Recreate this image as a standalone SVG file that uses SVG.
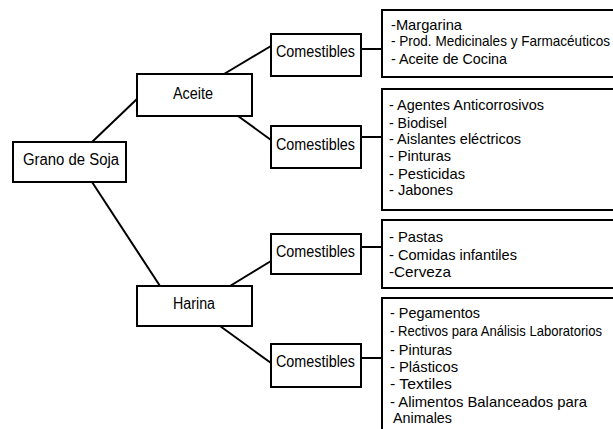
<svg xmlns="http://www.w3.org/2000/svg" width="613" height="429" viewBox="0 0 613 429">
<style>
.box{fill:#fff;stroke:#000;stroke-width:2}
.ln{stroke:#000;stroke-width:2;fill:none}
text{font-family:"Liberation Sans",Arial,sans-serif;fill:#000}
.n{font-size:16px}
.l{font-size:15px}
</style>
<rect width="613" height="429" fill="#fff"/>
<g id="connectors">
<line class="ln" x1="92" y1="142" x2="137" y2="99"/>
<line class="ln" x1="92" y1="182" x2="160" y2="286"/>
<line class="ln" x1="224" y1="74" x2="271" y2="46"/>
<line class="ln" x1="238" y1="116" x2="271" y2="140"/>
<line class="ln" x1="230" y1="286" x2="271" y2="261"/>
<line class="ln" x1="220" y1="326" x2="271" y2="363"/>
<line class="ln" x1="361" y1="49" x2="382" y2="49"/>
<line class="ln" x1="361" y1="137" x2="382" y2="137"/>
<line class="ln" x1="361" y1="247" x2="382" y2="247"/>
<line class="ln" x1="361" y1="358" x2="382" y2="358"/>
</g>
<g id="grano">
<rect class="box" x="13" y="142" width="113" height="40"/>
<text class="n" x="23" y="165" textLength="96" lengthAdjust="spacingAndGlyphs">Grano de Soja</text>
</g>
<g id="aceite">
<rect class="box" x="137" y="74" width="115" height="42"/>
<text class="n" x="173" y="99" textLength="40" lengthAdjust="spacingAndGlyphs">Aceite</text>
</g>
<g id="harina">
<rect class="box" x="137" y="286" width="115" height="40"/>
<text class="n" x="173" y="309" textLength="42" lengthAdjust="spacingAndGlyphs">Harina</text>
</g>
<g id="com1">
<rect class="box" x="271" y="34" width="90" height="42"/>
<text class="n" x="276" y="57" textLength="79" lengthAdjust="spacingAndGlyphs">Comestibles</text>
</g>
<g id="com2">
<rect class="box" x="271" y="126" width="90" height="42"/>
<text class="n" x="276" y="150" textLength="79" lengthAdjust="spacingAndGlyphs">Comestibles</text>
</g>
<g id="com3">
<rect class="box" x="271" y="234" width="90" height="40"/>
<text class="n" x="276" y="257" textLength="79" lengthAdjust="spacingAndGlyphs">Comestibles</text>
</g>
<g id="com4">
<rect class="box" x="271" y="344" width="90" height="43"/>
<text class="n" x="276" y="367" textLength="79" lengthAdjust="spacingAndGlyphs">Comestibles</text>
</g>
<g id="list1">
<rect class="box" x="382" y="10" width="240" height="67"/>
<text class="l" x="391" y="30" textLength="71" lengthAdjust="spacingAndGlyphs">-Margarina</text>
<text class="l" x="391" y="46" textLength="219" lengthAdjust="spacingAndGlyphs">-  Prod.  Medicinales  y  Farmacéuticos</text>
<text class="l" x="391" y="64" textLength="116" lengthAdjust="spacingAndGlyphs">- Aceite de Cocina</text>
</g>
<g id="list2">
<rect class="box" x="382" y="89" width="240" height="121"/>
<text class="l" x="389" y="110" textLength="155" lengthAdjust="spacingAndGlyphs">- Agentes Anticorrosivos</text>
<text class="l" x="389" y="128" textLength="58" lengthAdjust="spacingAndGlyphs">- Biodisel</text>
<text class="l" x="389" y="144" textLength="132" lengthAdjust="spacingAndGlyphs">- Aislantes eléctricos</text>
<text class="l" x="389" y="161" textLength="62" lengthAdjust="spacingAndGlyphs">- Pinturas</text>
<text class="l" x="389" y="179" textLength="76" lengthAdjust="spacingAndGlyphs">- Pesticidas</text>
<text class="l" x="389" y="195" textLength="64" lengthAdjust="spacingAndGlyphs">- Jabones</text>
</g>
<g id="list3">
<rect class="box" x="382" y="220" width="240" height="68"/>
<text class="l" x="389" y="242" textLength="54" lengthAdjust="spacingAndGlyphs">- Pastas</text>
<text class="l" x="389" y="260" textLength="128" lengthAdjust="spacingAndGlyphs">- Comidas infantiles</text>
<text class="l" x="389" y="277" textLength="62" lengthAdjust="spacingAndGlyphs">-Cerveza</text>
</g>
<g id="list4">
<rect class="box" x="382" y="298" width="240" height="140"/>
<text class="l" x="390" y="318" textLength="90" lengthAdjust="spacingAndGlyphs">- Pegamentos</text>
<text class="l" x="390" y="336" textLength="212" lengthAdjust="spacingAndGlyphs">-  Rectivos  para  Análisis  Laboratorios</text>
<text class="l" x="390" y="355" textLength="62" lengthAdjust="spacingAndGlyphs">- Pinturas</text>
<text class="l" x="390" y="372" textLength="68" lengthAdjust="spacingAndGlyphs">- Plásticos</text>
<text class="l" x="390" y="389" textLength="62" lengthAdjust="spacingAndGlyphs">- Textiles</text>
<text class="l" x="390" y="407" textLength="197" lengthAdjust="spacingAndGlyphs">- Alimentos Balanceados para</text>
<text class="l" x="393" y="423" textLength="59" lengthAdjust="spacingAndGlyphs">Animales</text>
</g>
</svg>
